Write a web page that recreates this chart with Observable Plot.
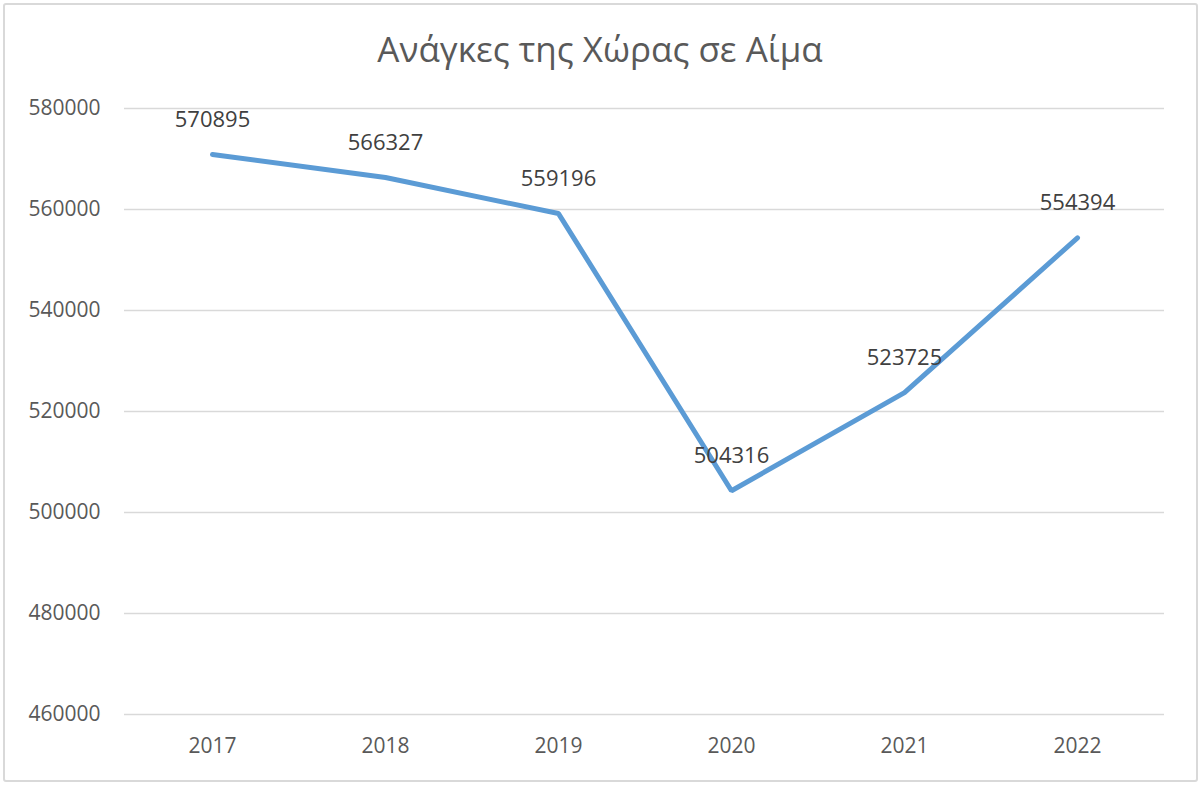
<!DOCTYPE html>
<html>
<head>
<meta charset="utf-8">
<script src="https://cdn.jsdelivr.net/npm/d3@7"></script>
<script src="https://cdn.jsdelivr.net/npm/@observablehq/plot@0.6"></script>
<style>
  html, body { margin: 0; padding: 0; background: #fff; }
  #wrap { position: relative; width: 1200px; height: 786px; overflow: hidden; font-family: "Open Sans", sans-serif; }
  #frame { position: absolute; left: 3px; top: 3px; width: 1191px; height: 775px; border: 2px solid #d9d9d9; border-radius: 3px; box-sizing: content-box; }
  #title { position: absolute; left: 0; top: 25px; width: 1200px; text-align: center; font-size: 35px; color: #595959; line-height: 48px; }
  #chart { position: absolute; left: 0; top: 80px; }
</style>
</head>
<body>
<div id="wrap">
  <div id="frame"></div>
  <div id="title">Ανάγκες της Χώρας σε Αίμα</div>
  <div id="chart"></div>
</div>
<script>
const years = ["2017", "2018", "2019", "2020", "2021", "2022"];
const values = [570895, 566327, 559196, 504316, 523725, 554394];
const yTicks = [460000, 480000, 500000, 520000, 540000, 560000, 580000];

const data = years.map((y, i) => ({year: y, value: values[i]}));

const chart = Plot.plot({
  width: 1200,
  height: 700,
  marginLeft: 124,
  marginRight: 36,
  marginTop: 28,
  marginBottom: 66,
  style: {fontFamily: "Open Sans, sans-serif", fontSize: "21px", color: "#595959", background: "transparent"},
  x: {type: "point", domain: years, padding: 0.5, label: null},
  y: {domain: [460000, 580000], ticks: yTicks, label: null},
  marks: [
    Plot.gridY(yTicks, {stroke: "#d9d9d9", strokeOpacity: 1, strokeWidth: 1.5}),
    Plot.axisY(yTicks, {tickSize: 0, tickPadding: 24, tickFormat: d => String(d), fill: "#595959", fontSize: 21, label: null}),
    Plot.axisX({tickSize: 0, tickPadding: 24, fill: "#595959", fontSize: 21, label: null}),
    Plot.line(data, {x: "year", y: "value", stroke: "#5b9bd5", strokeWidth: 5, strokeLinejoin: "miter", strokeLinecap: "round"}),
    Plot.text(data, {x: "year", y: "value", text: d => String(d.value), dy: -35, fill: "#404040", fontSize: 22})
  ]
});
document.getElementById("chart").appendChild(chart);
</script>
</body>
</html>
